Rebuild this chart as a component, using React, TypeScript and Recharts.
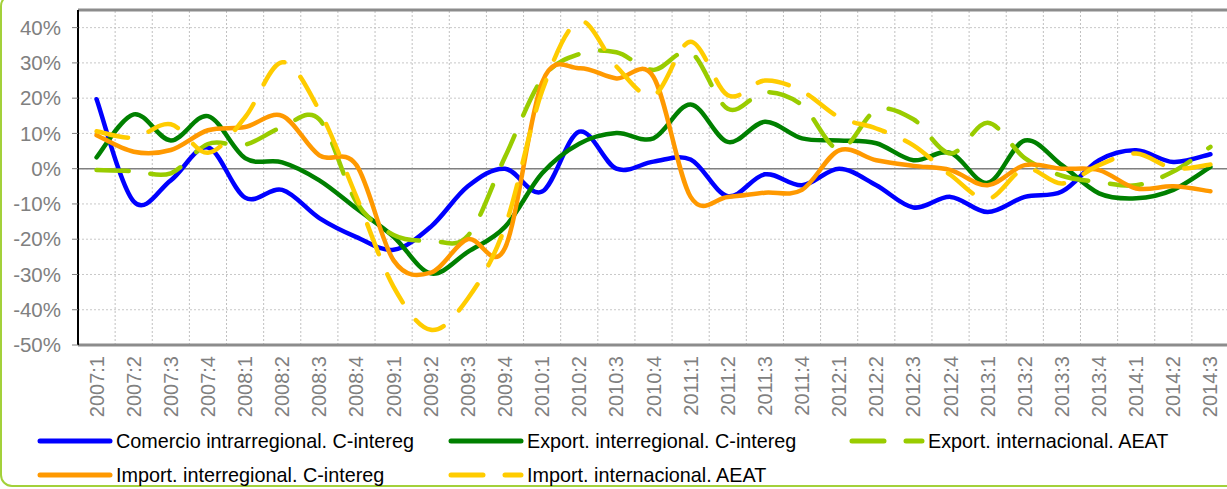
import React from 'react';
import { LineChart, Line, XAxis, YAxis, CartesianGrid, ReferenceLine } from 'recharts';

const categories = [
  '2007:1', '2007:2', '2007:3', '2007:4', '2008:1', '2008:2', '2008:3', '2008:4',
  '2009:1', '2009:2', '2009:3', '2009:4', '2010:1', '2010:2', '2010:3', '2010:4',
  '2011:1', '2011:2', '2011:3', '2011:4', '2012:1', '2012:2', '2012:3', '2012:4',
  '2013:1', '2013:2', '2013:3', '2013:4', '2014:1', '2014:2', '2014:3',
];

const comercioIntra = [19.7, -9.3, -3.3, 6, -8.2, -6, -14, -19.4, -23, -16.5, -5, 0, -6.5, 10.5, 0, 2, 2.6, -7.8, -1.6, -4.7, 0, -4.7, -11, -8, -12.3, -8, -6.5, 2.4, 5.2, 1.9, 4.1];
const exportInter = [3.2, 15.4, 8, 14.9, 3, 1.8, -3.3, -11.3, -19.3, -29.7, -23.6, -16.5, -1.3, 7.1, 10.1, 8.6, 18.2, 7.6, 13.3, 8.6, 8, 7.2, 2.4, 4.5, -4, 8, 1, -7, -8.4, -6, 0.5];
const exportIntl = [-0.4, -0.7, -1.3, 7, 6.8, 11.8, 14, -9.5, -18.8, -20.4, -19, 3.3, 25.5, 32.5, 33, 28, 33, 17, 21.7, 18, 5.5, 16.6, 14, 4.3, 13, 3, -2, -3.8, -4.7, -0.8, 6.2];
const importInter = [9.5, 4.8, 5.3, 10.9, 11.8, 15, 3.8, 1, -26, -29.5, -20, -22.5, 24.5, 28.5, 25.6, 26, -8, -8, -6.8, -6, 5.2, 2.4, 0.8, -0.4, -4.7, 1, 0, -0.4, -5.6, -5, -6.4];
const importIntl = [10.6, 8.8, 12.6, 4.5, 14.6, 30.2, 16.5, -8, -33.5, -45.7, -36.8, -16.5, 22, 41.8, 29, 20.8, 36, 20.8, 25, 22, 14.6, 11.4, 6.6, -1.8, -8.6, 0, -4.2, 1, 4.3, 0.1, 1.2];

const yTicks = [-50, -40, -30, -20, -10, 0, 10, 20, 30, 40];

const series = [
  { key: 'comercioIntra', name: 'Comercio intrarregional. C-intereg', color: '#0000ff', dash: undefined, values: comercioIntra },
  { key: 'exportInter', name: 'Export. interregional. C-intereg', color: '#008000', dash: undefined, values: exportInter },
  { key: 'exportIntl', name: 'Export. internacional. AEAT', color: '#99cc00', dash: '32 22', values: exportIntl },
  { key: 'importInter', name: 'Import. interregional. C-intereg', color: '#ff9900', dash: undefined, values: importInter },
  { key: 'importIntl', name: 'Import. internacional. AEAT', color: '#ffcc00', dash: '32 22', values: importIntl },
];

const data = categories.map((c, i) => {
  const row: any = { idx: i, label: c };
  series.forEach(s => { row[s.key] = s.values[i]; });
  return row;
});

// Excel-like smoothing (Catmull-Rom through every point)
const excelSmooth = (context: any) => {
  let pts: number[][] = [];
  return {
    areaStart() {},
    areaEnd() {},
    lineStart() { pts = []; },
    point(x: number, y: number) { pts.push([x, y]); },
    lineEnd() {
      if (!pts.length) return;
      context.moveTo(pts[0][0], pts[0][1]);
      for (let i = 0; i < pts.length - 1; i++) {
        const p0 = pts[Math.max(0, i - 1)];
        const p1 = pts[i];
        const p2 = pts[i + 1];
        const p3 = pts[Math.min(pts.length - 1, i + 2)];
        context.bezierCurveTo(
          p1[0] + (p2[0] - p0[0]) / 6, p1[1] + (p2[1] - p0[1]) / 6,
          p2[0] - (p3[0] - p1[0]) / 6, p2[1] - (p3[1] - p1[1]) / 6,
          p2[0], p2[1],
        );
      }
    },
  };
};

const font = '"Liberation Sans", Arial, sans-serif';

const XTick = (props: any) => {
  const { x, y, payload } = props;
  return (
    <text x={x} y={y} transform={`rotate(-90, ${x}, ${y})`} textAnchor="end" dominantBaseline="central"
      fill="#808080" fontSize={20} fontFamily={font}>
      {categories[payload.value]}
    </text>
  );
};

const LegendItem = ({ s, left, top }: any) => (
  <div style={{ position: 'absolute', left, top, display: 'flex', alignItems: 'center', height: 24 }}>
    <svg width={78} height={10}>
      <line x1={3} y1={5} x2={73} y2={5} stroke={s.color} strokeWidth={5} strokeLinecap="round" strokeDasharray={s.dash} />
    </svg>
    <span style={{ marginLeft: 1, fontSize: 19.8, color: '#000', whiteSpace: 'nowrap' }}>{s.name}</span>
  </div>
);

export default function App() {
  const boundaries = categories.slice(1).map((_, i) => i + 0.5);
  return (
    <div style={{ position: 'absolute', left: 0, top: 0, width: 1227, height: 489, overflow: 'hidden', background: '#fff', fontFamily: font }}>
      <div style={{ position: 'absolute', left: 0, top: -6, width: 1260, height: 493, border: '2px solid #a3d13a', borderRadius: 12, boxSizing: 'border-box' }} />
      <div style={{ position: 'absolute', left: 0, top: 0 }}>
        <LineChart width={1229} height={430} data={data} margin={{ top: 10, right: 0, bottom: 0, left: 0 }}>
          <CartesianGrid vertical={false} stroke="#c8c8c8" strokeDasharray="2 2" />
          {boundaries.map(b => (
            <ReferenceLine key={b} x={b} stroke="#c0c0c0" strokeDasharray="2 2" />
          ))}
          <ReferenceLine y={0} stroke="#808080" strokeWidth={1.5} />
          <ReferenceLine y={45} stroke="#8c8c8c" strokeWidth={3} />
          <XAxis dataKey="idx" type="number" domain={[-0.5, 30.5]} ticks={data.map(d => d.idx)}
            interval={0} height={85} tick={<XTick />} tickLine={false} tickSize={0} tickMargin={11}
            axisLine={{ stroke: '#8c8c8c', strokeWidth: 3 }} />
          <YAxis type="number" domain={[-50, 45]} ticks={yTicks} width={78} interval={0}
            tickFormatter={(v: number) => `${v}%`} tick={{ fill: '#808080', fontSize: 20.5, fontFamily: font }}
            tickSize={6} tickMargin={11} tickLine={{ stroke: '#808080' }}
            axisLine={{ stroke: '#000', strokeWidth: 2 }} />
          {series.map(s => (
            <Line key={s.key} dataKey={s.key} type={excelSmooth as any} stroke={s.color} strokeWidth={4.5}
              strokeLinecap="round" strokeDasharray={s.dash} dot={false} activeDot={false}
              isAnimationActive={false} />
          ))}
        </LineChart>
      </div>
      <LegendItem s={series[0]} left={37} top={429} />
      <LegendItem s={series[1]} left={448} top={429} />
      <LegendItem s={series[2]} left={849} top={429} />
      <LegendItem s={series[3]} left={37} top={463} />
      <LegendItem s={series[4]} left={448} top={463} />
    </div>
  );
}
